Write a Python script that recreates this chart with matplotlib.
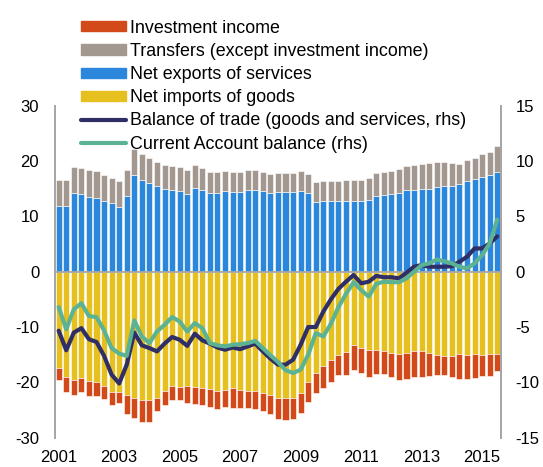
import matplotlib
matplotlib.use("Agg")
import matplotlib.pyplot as plt
from matplotlib.patches import Patch
from matplotlib.lines import Line2D
import numpy as np

plt.rcParams['font.family'] = ['Liberation Sans', 'DejaVu Sans']
plt.rcParams['axes.unicode_minus'] = False

# Quarterly data 2001Q1 - 2015Q3 (% of GDP)
years = ['2001', '2003', '2005', '2007', '2009', '2011', '2013', '2015']

services = [11.9, 11.8, 14.2, 14.05, 13.5, 13.4, 12.7, 12.35, 11.65, 13.6,
            17.4, 16.5, 16.1, 15.55, 14.9, 14.7, 14.5, 14.0, 15.2, 14.8,
            14.2, 14.3, 14.5, 14.35, 14.4, 14.8, 14.85, 14.5, 14.2, 14.35,
            14.4, 14.35, 14.65, 14.2, 12.65, 12.8, 12.8, 12.85, 12.85, 12.8,
            12.85, 12.97, 13.7, 13.87, 14.05, 14.3, 14.8, 14.85, 14.95, 15.0,
            15.3, 15.55, 15.55, 15.9, 16.35, 16.8, 17.1, 17.4, 17.97]

transfers = [4.6, 4.7, 4.7, 4.75, 4.8, 4.75, 4.8, 4.55, 4.65, 4.8,
             4.7, 4.7, 4.5, 4.35, 4.3, 4.4, 4.4, 4.3, 4.1, 4.0,
             3.77, 3.67, 3.7, 3.75, 3.7, 3.6, 3.55, 3.6, 3.4, 3.45,
             3.4, 3.45, 3.55, 3.5, 3.55, 3.6, 3.6, 3.6, 3.75, 3.8,
             3.75, 3.93, 4.1, 4.1, 4.15, 4.27, 4.3, 4.45, 4.45, 4.6,
             4.6, 4.25, 4.05, 3.6, 3.75, 3.8, 4.1, 4.3, 4.73]

goods = [-17.4, -19.0, -19.6, -19.2, -19.8, -19.9, -20.6, -21.8, -21.75, -22.3,
         -22.8, -23.2, -23.1, -22.8, -21.6, -20.7, -20.8, -20.7, -20.8, -21.0,
         -21.2, -21.6, -21.3, -21.1, -21.4, -21.5, -21.5, -21.9, -22.3, -22.8,
         -22.9, -22.9, -22.0, -20.0, -18.3, -17.0, -16.0, -15.0, -14.5, -13.25,
         -13.85, -14.15, -14.15, -14.35, -14.65, -14.95, -14.75, -14.35, -14.35, -14.75,
         -15.05, -15.25, -15.2, -14.95, -15.05, -14.85, -15.05, -14.85, -14.85]

investment = [-2.2, -2.7, -2.7, -2.5, -2.6, -2.5, -2.4, -2.2, -2.05, -3.5,
              -3.7, -3.9, -4.0, -2.4, -2.5, -2.4, -2.4, -3.0, -3.1, -3.1,
              -3.2, -3.3, -3.2, -3.5, -3.3, -3.2, -3.3, -3.2, -3.4, -3.9,
              -3.9, -3.8, -3.5, -3.5, -3.7, -4.0, -4.0, -3.7, -4.2, -4.45,
              -4.4, -4.85, -4.4, -4.2, -4.35, -4.65, -4.55, -4.65, -4.65, -4.15,
              -3.65, -3.45, -3.8, -4.35, -4.35, -4.35, -3.85, -4.05, -3.05]

trade = [-5.33, -7.1, -5.5, -5.1, -6.1, -6.35, -7.6, -9.3, -10.1, -8.4,
         -5.5, -6.65, -6.9, -7.2, -6.5, -5.9, -6.15, -6.7, -5.6, -6.2,
         -6.5, -6.85, -7.05, -6.85, -7.0, -6.75, -6.5, -7.2, -7.85, -8.4,
         -8.4, -7.95, -6.6, -5.0, -5.0, -3.6, -2.5, -1.55, -0.9, -0.3,
         -1.05, -0.9, -0.38, -0.5, -0.5, -0.6, -0.1, 0.45, 0.6, 0.45,
         0.45, 0.45, 0.5, 0.9, 1.35, 2.1, 2.1, 2.55, 3.2]

current_account = [-3.2, -5.2, -3.4, -2.85, -4.0, -4.1, -5.3, -6.9, -7.4, -7.6,
                   -4.4, -5.85, -6.45, -5.4, -4.8, -4.1, -4.5, -5.4, -4.65, -5.1,
                   -6.45, -6.65, -6.75, -6.6, -6.55, -6.45, -6.25, -6.9, -7.55, -8.15,
                   -8.9, -9.15, -8.85, -7.5, -5.55, -5.85, -4.7, -3.2, -2.0, -0.95,
                   -1.65, -2.25, -1.1, -0.9, -0.95, -0.95, -0.6, 0.0, 0.6, 0.75,
                   1.1, 0.95, 0.75, 0.45, 0.3, 0.75, 1.5, 2.55, 4.7]

labels = ['Investment income', 'Transfers (except investment income)',
          'Net exports of services', 'Net imports of goods',
          'Balance of trade (goods and services, rhs)', 'Current Account balance (rhs)']

c_inv = '#D2491A'
c_tr = '#A39890'
c_srv = '#2B87DC'
c_goods = '#E6C01E'
c_trade = '#2E2F66'
c_ca = '#5BB393'

fig = plt.figure(figsize=(5.43, 4.67), dpi=100)
ax = fig.add_axes([0.1004, 0.0627, 0.8223, 0.711])
ax2 = ax.twinx()

x = np.arange(len(services))
w = 0.8
ekw = dict(edgecolor='white', linewidth=0.4)
ax.bar(x, services, w, color=c_srv, **ekw)
ax.bar(x, transfers, w, bottom=services, color=c_tr, **ekw)
ax.bar(x, goods, w, color=c_goods, **ekw)
ax.bar(x, investment, w, bottom=goods, color=c_inv, **ekw)
ax.axhline(0, color='#A6A6A6', lw=1.3, zorder=3)

lkw = dict(lw=3.0, solid_joinstyle='round', solid_capstyle='round')
ax2.plot(x, trade, color=c_trade, **lkw)
ax2.plot(x, current_account, color=c_ca, **lkw)

ax.set_xlim(-0.55, 58.5)
ax.set_ylim(-30, 30)
ax2.set_ylim(-15, 15)
ax.set_yticks(np.arange(-30, 31, 10))
ax2.set_yticks(np.arange(-15, 16, 5))
ax.set_xticks(np.arange(0, 58, 8))
ax.set_xticklabels(years)

for a in (ax, ax2):
    for s in ('top', 'bottom'):
        a.spines[s].set_visible(False)
    for s in ('left', 'right'):
        a.spines[s].set_color('#A6A6A6')
        a.spines[s].set_linewidth(1.3)
    a.tick_params(length=0, labelsize=12)
ax.tick_params(axis='y', pad=11)
ax2.tick_params(axis='y', pad=10.5)
ax.tick_params(axis='x', pad=9)
ax.set_zorder(0)
ax2.set_zorder(1)

handles = [Patch(color=c_inv), Patch(color=c_tr), Patch(color=c_srv), Patch(color=c_goods),
           Line2D([], [], color=c_trade, lw=3.0, solid_capstyle='round'),
           Line2D([], [], color=c_ca, lw=3.0, solid_capstyle='round')]
fig.legend(handles, labels, loc='upper left', bbox_to_anchor=(0.149, 0.958),
           frameon=False, fontsize=12.9, handlelength=2.5, handleheight=0.5,
           handletextpad=0.25, labelspacing=0.345, borderpad=0, borderaxespad=0)

fig.savefig('out.png', dpi=100)
